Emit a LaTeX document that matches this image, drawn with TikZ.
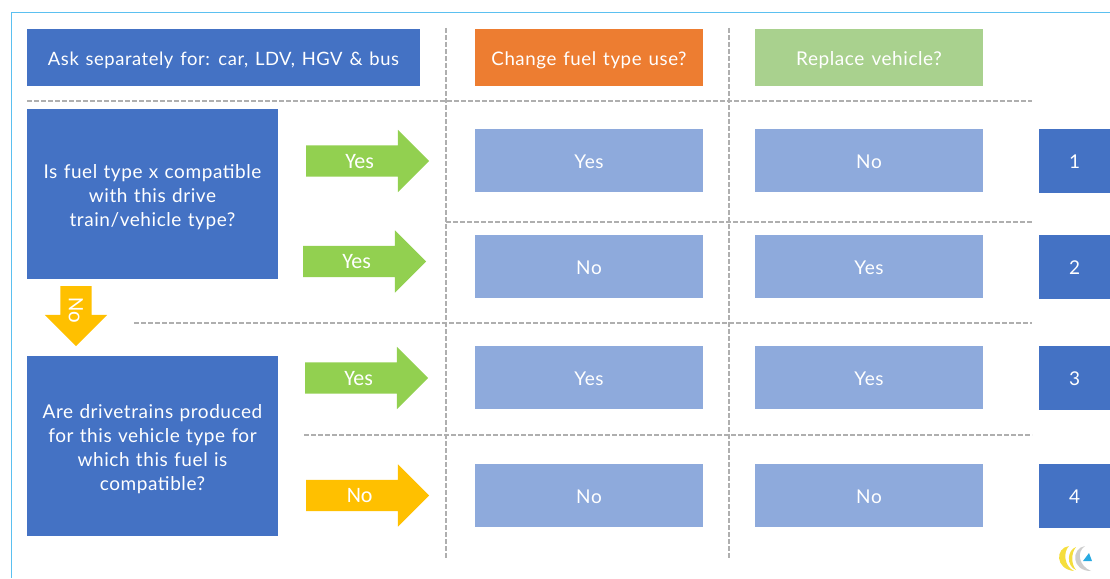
\documentclass[tikz,border=0pt]{standalone}
\usepackage{fontspec}
\setmainfont{Lato}[LetterSpace=3,WordSpace=1.3]
\newfontfamily\arrowfont{Carlito}
\newcommand{\topgap}{\rule{0pt}{19.5pt}}
\usetikzlibrary{shapes.arrows}
\definecolor{darkblue}{RGB}{68,114,196}
\definecolor{paleblue}{RGB}{142,170,220}
\definecolor{fuelorange}{RGB}{237,125,49}
\definecolor{palegreen}{RGB}{169,209,142}
\definecolor{yesgreen}{RGB}{146,208,80}
\definecolor{noyellow}{RGB}{255,192,0}
\definecolor{framecyan}{RGB}{91,192,240}
\definecolor{gridgrey}{RGB}{175,175,175}
\definecolor{logoyellow}{RGB}{245,222,60}
\definecolor{logogrey}{RGB}{205,205,205}
\definecolor{logoblue}{RGB}{40,170,225}
\tikzset{
  x=1pt, y=-1pt,
  box/.style={anchor=north west, inner sep=0pt, outer sep=0pt, text=white, align=center, font=\fontsize{19}{24}\selectfont},
  question/.style={box, fill=darkblue, minimum width=251pt, minimum height=170pt, text width=245pt},
  single/.style={box, text height=19pt, text depth=4pt},
  answer/.style={single, fill=paleblue, minimum width=228pt, minimum height=63pt},
  number/.style={single, fill=darkblue, minimum width=71pt, minimum height=64pt},
  header/.style={single, minimum height=57pt},
  gridline/.style={gridgrey, line width=1.2pt, dash pattern=on 5pt off 2pt},
  bigarrow/.style={single arrow, inner xsep=0pt, inner ysep=0pt, outer sep=0pt, text height=22.5pt, text depth=8.5pt, minimum height=123pt, minimum width=62pt, single arrow head extend=15.5pt, single arrow tip angle=90, text=white, font=\arrowfont\fontsize{22}{24}\selectfont, anchor=west}
}
\begin{document}
\begin{tikzpicture}
  \useasboundingbox (0,0) rectangle (1110,578);
  \draw[framecyan, line width=1pt] (1110,12.5) -- (11.5,12.5) -- (11.5,578);

  \coordinate (topleft) at (27,101);
  \coordinate (topright) at (1032,101);
  \coordinate (midleft) at (446,222);
  \coordinate (midright) at (1032,222);
  \coordinate (lowleft) at (134,323);
  \coordinate (lowright) at (1032,323);
  \coordinate (botleft) at (304,435);
  \coordinate (botright) at (1032,435);
  \coordinate (colatop) at (446,28);
  \coordinate (colabot) at (446,558);
  \coordinate (colbtop) at (729,28);
  \coordinate (colbbot) at (729,558);
  \draw[gridline] (topleft) -- (topright);
  \draw[gridline] (midleft) -- (midright);
  \draw[gridline] (lowleft) -- (lowright);
  \draw[gridline] (botleft) -- (botright);
  \draw[gridline] (colatop) -- (colabot);
  \draw[gridline] (colbtop) -- (colbbot);

  \node[header, fill=darkblue, minimum width=393pt, font=\fontsize{18.4}{24}\selectfont] (askbox) at (27,29) {Ask separately for: car, LDV, HGV \& bus};
  \node[header, fill=fuelorange, minimum width=228pt, font=\fontsize{18.7}{24}\selectfont] (fuelbox) at (475,29) {Change fuel type use?};
  \node[header, fill=palegreen, minimum width=228pt] (vehiclebox) at (755,29) {Replace vehicle?};

  \node[question] (compatible) at (27,109) {\topgap Is fuel type x compatible\\with this drive\\train/vehicle type?};
  \node[question, minimum height=180pt] (drivetrain) at (27,356) {\topgap Are drivetrains produced\\for this vehicle type for\\which this fuel is\\compatible?};

  \node[bigarrow, fill=noyellow, rotate=-90, minimum height=60pt] (noarrow) at (76,286) {\kern5pt No};

  \node[bigarrow, fill=yesgreen] (yesa) at (306,161) {Yes};
  \node[bigarrow, fill=yesgreen] (yesb) at (303,261.5) {Yes};
  \node[bigarrow, fill=yesgreen] (yesc) at (305,378) {Yes};
  \node[bigarrow, fill=noyellow] (noa) at (306,495.5) {No};

  \foreach \rowname/\ypos/\fuelans/\vehans/\num in {a/129/Yes/No/1, b/235/No/Yes/2, c/346/Yes/Yes/3, d/464/No/No/4} {
    \node[answer] (fuel\rowname) at (475,\ypos) {\fuelans};
    \node[answer] (veh\rowname) at (755,\ypos) {\vehans};
    \node[number] (num\rowname) at (1039,\ypos) {\num};
  }

  % logo
  \fill[logoyellow] (1069,546) .. controls (1055,548) and (1055,569) .. (1074,571) .. controls (1064,566) and (1063,552) .. (1069,546);
  \fill[logoyellow] (1076,547) .. controls (1067,550) and (1066,566) .. (1076,570) .. controls (1071,564) and (1071,553) .. (1076,547);
  \fill[logogrey] (1085,546) .. controls (1071,548) and (1071,571) .. (1091,571) .. controls (1079,566) and (1076,552) .. (1085,546);
  \fill[logoblue] (1083,561) -- (1089,553) -- (1092,561) -- cycle;
\end{tikzpicture}
\end{document}
